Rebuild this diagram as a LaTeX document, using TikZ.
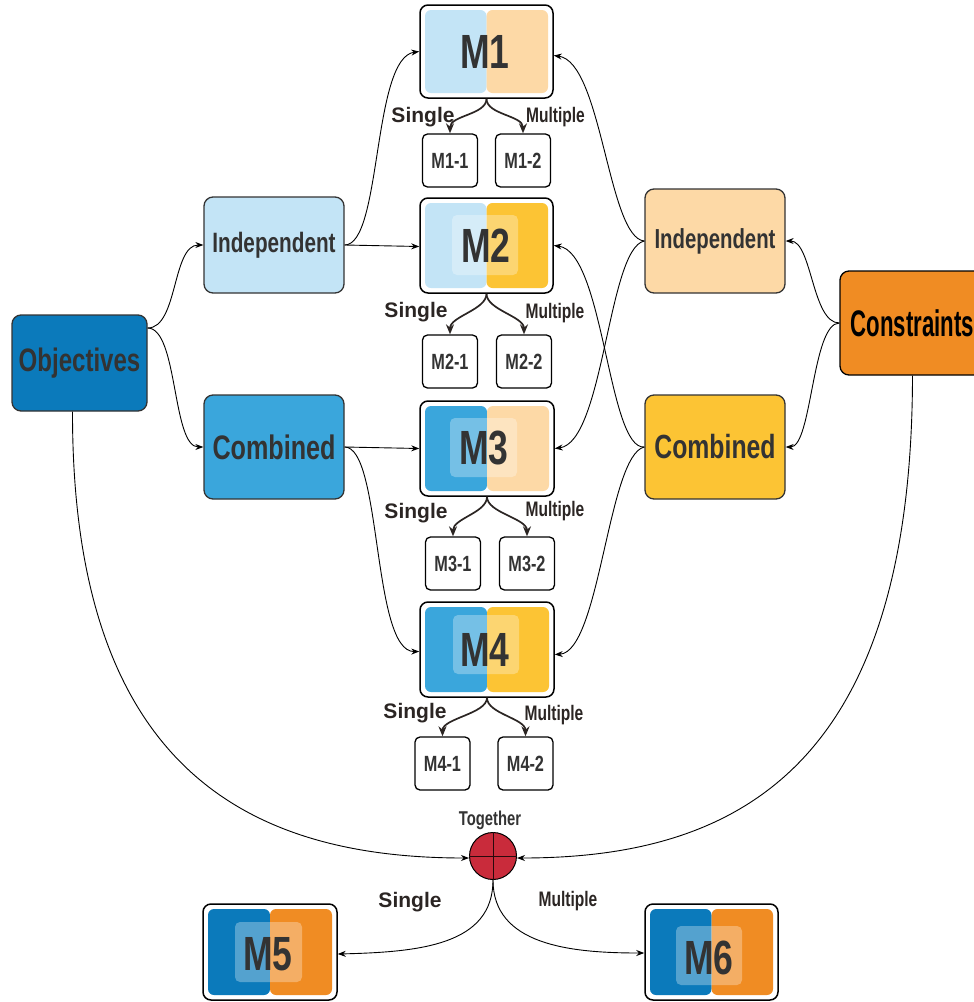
\documentclass[tikz,border=0pt]{standalone}
\usepackage{fontspec}
\setmainfont{Liberation Sans}
\newfontfamily\narrowfont{Liberation Sans}[FakeStretch=0.74]
\newfontfamily\tightfont{Liberation Sans}[FakeStretch=0.6]
\usetikzlibrary{arrows.meta,fit}

\definecolor{lblue}{HTML}{C3E4F6}
\definecolor{mblue}{HTML}{3AA6DC}
\definecolor{dblue}{HTML}{0B7ABB}
\definecolor{lorange}{HTML}{FDD9A6}
\definecolor{gold}{HTML}{FCC434}
\definecolor{dorange}{HTML}{F08C23}
\definecolor{jred}{HTML}{C92B3B}
\definecolor{ink}{HTML}{333333}
\definecolor{labink}{HTML}{2B2523}

\newcommand\fsz[1]{\fontsize{#1}{#1}\selectfont}

% A model box: name, left x, top y, right x, bottom y, left colour, right colour, label
\newcommand\modelbox[8]{%
  \node[frame, fit={(#2,#3) (#4,#5)}] (#1) {};
  \fill[#6, rounded corners=6pt] ({#2+5},{#3+5}) rectangle ({(#2+#4)/2},{#5-5});
  \fill[#7, rounded corners=6pt] ({(#2+#4)/2},{#3+5}) rectangle ({#4-5},{#5-5});
}
\newcommand\glass[4]{%
  \fill[white, opacity=0.3, rounded corners=5pt] (#1,#2) rectangle (#3,#4);
}

\tikzset{
  frame/.style={draw=black, line width=1.5pt, fill=white, rounded corners=8pt, inner sep=0pt},
  mlabel/.style={text=ink, font=\narrowfont\bfseries\fsz{48}},
  smallbox/.style={draw=black, line width=1.3pt, fill=white, rounded corners=5pt,
    minimum width=55pt, minimum height=53pt, inner sep=0pt, text=ink,
    font=\narrowfont\bfseries\fsz{22}},
  catbox/.style={draw=ink, line width=1.3pt, rounded corners=9pt,
    minimum width=140pt, inner sep=0pt, text=ink},
  conn/.style={line width=0.9pt, -{Stealth[length=8pt,width=6pt]}},
  branch/.style={line width=1.7pt, draw=labink, -{Stealth[length=10pt,width=8pt]}},
  single/.style={anchor=base, text=labink, font=\bfseries\fsz{21}},
  multiple/.style={anchor=base, text=labink, font=\narrowfont\bfseries\fsz{21}},
}

\begin{document}
\begin{tikzpicture}[x=1pt, y=-1pt]
\useasboundingbox (0,0) rectangle (974,1002);

% ---- category boxes ----
\node[catbox, fill=dblue, minimum width=135pt, minimum height=96pt,
      font=\narrowfont\bfseries\fsz{32.5}] (obj) at (79.5,363) {Objectives};
\node[catbox, fill=lblue, minimum height=96pt,
      font=\narrowfont\bfseries\fsz{28}] (indL) at (274,245) {Independent};
\node[catbox, fill=mblue, minimum height=104pt,
      font=\narrowfont\bfseries\fsz{34}] (combL) at (274,447) {Combined};
\node[catbox, fill=lorange, minimum height=104pt,
      font=\narrowfont\bfseries\fsz{27.5}] (indR) at (715,241) {Independent};
\node[catbox, fill=gold, minimum height=104pt,
      font=\narrowfont\bfseries\fsz{33.5}] (combR) at (715,447) {Combined};
\node[catbox, draw=black, fill=dorange, minimum width=145pt, minimum height=104pt,
      text=black, font=\tightfont\bfseries\fsz{37}] (cons) at (912.5,323) {Constraints};

% ---- model boxes M1 to M4 ----
\modelbox{m1}{420}{5}{553}{98}{lblue}{lorange}{M1}
\node[mlabel] at (485,51.5) {M1};

\modelbox{m2}{420}{198}{553}{293}{lblue}{gold}{M2}
\glass{452}{215}{518}{275}
\node[mlabel] at (486,245.5) {M2};

\modelbox{m3}{420}{401}{554}{496}{mblue}{lorange}{M3}
\glass{450}{418}{517}{477}
\node[mlabel] at (484,448.5) {M3};

\modelbox{m4}{420}{602}{554}{697}{mblue}{gold}{M4}
\glass{453}{615}{519}{674}
\node[mlabel] at (485,649.5) {M4};

% ---- model boxes M5 and M6 ----
\modelbox{m5}{203}{904}{337}{1000}{dblue}{dorange}{M5}
\glass{235}{922}{302}{982}
\node[mlabel] at (268,954) {M5};

\modelbox{m6}{645}{904}{778}{1000}{dblue}{dorange}{M6}
\glass{676}{926}{742}{985}
\node[mlabel] at (709,958) {M6};

% ---- variant boxes ----
\node[smallbox] (m11) at (450,160.5) {M1-1};
\node[smallbox] (m12) at (523,160.5) {M1-2};
\node[smallbox] (m21) at (450,361.5) {M2-1};
\node[smallbox] (m22) at (524,361.5) {M2-2};
\node[smallbox] (m31) at (453,563.5) {M3-1};
\node[smallbox] (m32) at (527,563.5) {M3-2};
\node[smallbox] (m41) at (442.5,763.5) {M4-1};
\node[smallbox] (m42) at (525.5,763.5) {M4-2};

% ---- single / multiple branches under each model ----
\foreach \m/\a/\b in {m1/m11/m12, m2/m21/m22, m3/m31/m32, m4/m41/m42}{
  \draw[branch] (\m.south) .. controls ([yshift=-16pt]\m.south) and ([yshift=18pt]\a.north) .. (\a.north);
  \draw[branch] (\m.south) .. controls ([yshift=-16pt]\m.south) and ([yshift=18pt]\b.north) .. (\b.north);
}
\node[single] at (423,122) {Single};
\node[multiple] at (555.5,122) {Multiple};
\node[single] at (416,317) {Single};
\node[multiple] at (555,318) {Multiple};
\node[single] at (416,518) {Single};
\node[multiple] at (555,516) {Multiple};
\node[single] at (415,718) {Single};
\node[multiple] at (554,720) {Multiple};

% ---- objectives side ----
\coordinate (objfork) at ([yshift=35pt]obj.east);
\draw[conn] (objfork) .. controls (178,328) and (172,245) .. (indL.west);
\draw[conn] (objfork) .. controls (178,328) and (172,447) .. (combL.west);
\draw[conn] (indL.east) .. controls (382,245) and (372,58) .. (m1.west);
\draw[conn] (indL.east) -- ([yshift=-1pt]m2.west);
\draw[conn] (combL.east) -- (m3.west);
\draw[conn] (combL.east) .. controls (382,447) and (372,652) .. ([yshift=-2pt]m4.west);

% ---- constraints side ----
\draw[conn] (cons.west) .. controls (812,323) and (812,241) .. (indR.east);
\draw[conn] (cons.west) .. controls (812,323) and (812,447) .. (combR.east);
\draw[conn] (indR.west) .. controls (608,238) and (602,62) .. ([yshift=-4pt]m1.east);
\draw[conn] (indR.west) .. controls (608,248) and (604,442) .. (m3.east);
\draw[conn] (combR.west) .. controls (608,450) and (604,252) .. (m2.east);
\draw[conn] (combR.west) .. controls (608,455) and (600,652) .. ([yshift=-5pt]m4.east);

% ---- joint use of both ----
\node[circle, draw=black, line width=1pt, fill=jred, minimum size=47pt, inner sep=0pt] (tog) at (493,856) {};
\draw[line width=0.8pt, draw=black!80!jred] (tog.north) -- (tog.south) (tog.west) -- (tog.east);
\node[anchor=base, text=ink, font=\narrowfont\bfseries\fsz{20}] at (490,825) {Together};

\draw[conn] ([xshift=-7pt]obj.south) .. controls (72,770) and (250,858) .. ([yshift=-2pt]tog.west);
\draw[conn] (cons.south) .. controls (912,770) and (735,858) .. ([yshift=-2pt]tog.east);

\draw[conn] (tog.south) .. controls (493,945) and (420,952) .. ([yshift=-2pt]m5.east);
\draw[conn] (tog.south) .. controls (493,945) and (570,953) .. ([yshift=-1pt]m6.west);
\node[single] at (410,907) {Single};
\node[multiple] at (568,906) {Multiple};
\end{tikzpicture}
\end{document}
